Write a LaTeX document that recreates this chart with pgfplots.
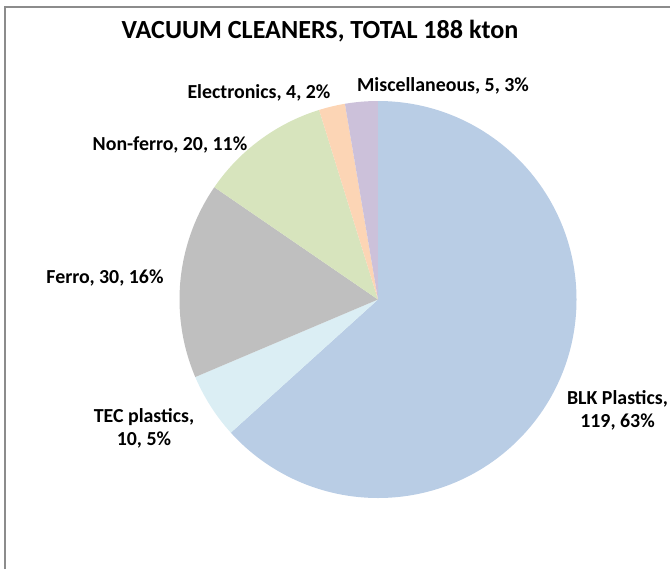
\documentclass[border=0pt]{standalone}
\usepackage{pgfplots}
\pgfplotsset{compat=1.18}
\usepackage{fontspec}
\setmainfont{Carlito}
\definecolor{cBLK}{HTML}{B9CDE5}
\definecolor{cTEC}{HTML}{DBEEF4}
\definecolor{cFer}{HTML}{BFBFBF}
\definecolor{cNon}{HTML}{D7E4BD}
\definecolor{cEle}{HTML}{FCD5B5}
\definecolor{cMis}{HTML}{CCC1DA}
\definecolor{frame}{HTML}{8C8C8C}
% data: kton per fraction (total 188)
\def\vBLK{119}\def\vTEC{10}\def\vFer{30}\def\vNon{20}\def\vEle{4}\def\vMis{5}
\begin{document}
\begin{tikzpicture}
\useasboundingbox (0,0) rectangle (502.5pt,426.75pt);
\pgfmathsetmacro\tot{\vBLK+\vTEC+\vFer+\vNon+\vEle+\vMis}
\pgfmathsetmacro\aA{90}
\pgfmathsetmacro\aB{\aA-\vBLK/\tot*360}
\pgfmathsetmacro\aC{\aB-\vTEC/\tot*360}
\pgfmathsetmacro\aD{\aC-\vFer/\tot*360}
\pgfmathsetmacro\aE{\aD-\vNon/\tot*360}
\pgfmathsetmacro\aF{\aE-\vEle/\tot*360}
\pgfmathsetmacro\aG{\aF-\vMis/\tot*360}
\def\cx{378}\def\cy{269.5}\def\R{198.5}
\begin{axis}[
  scale only axis, width=502.5pt, height=426.75pt,
  xmin=0, xmax=670, ymin=0, ymax=569,
  hide axis, clip=false,
]
\fill[cBLK] (\cx,\cy) -- ({\cx+\R*cos(\aA)},{\cy+\R*sin(\aA)}) arc[start angle=\aA, end angle=\aB, radius=\R] -- cycle;
\fill[cTEC] (\cx,\cy) -- ({\cx+\R*cos(\aB)},{\cy+\R*sin(\aB)}) arc[start angle=\aB, end angle=\aC, radius=\R] -- cycle;
\fill[cFer] (\cx,\cy) -- ({\cx+\R*cos(\aC)},{\cy+\R*sin(\aC)}) arc[start angle=\aC, end angle=\aD, radius=\R] -- cycle;
\fill[cNon] (\cx,\cy) -- ({\cx+\R*cos(\aD)},{\cy+\R*sin(\aD)}) arc[start angle=\aD, end angle=\aE, radius=\R] -- cycle;
\fill[cEle] (\cx,\cy) -- ({\cx+\R*cos(\aE)},{\cy+\R*sin(\aE)}) arc[start angle=\aE, end angle=\aF, radius=\R] -- cycle;
\fill[cMis] (\cx,\cy) -- ({\cx+\R*cos(\aF)},{\cy+\R*sin(\aF)}) arc[start angle=\aF, end angle=\aG, radius=\R] -- cycle;
\draw[frame, line width=1.2pt] (5,0) -- (5,562) -- (670,562);
\node[font=\fontsize{19.6}{24}\selectfont\bfseries] at (320,538) {VACUUM CLEANERS, TOTAL 188 kton};
\tikzset{lbl/.style={font=\fontsize{14.9}{17.3}\selectfont\bfseries, align=center, inner sep=0pt}}
\node[lbl] at (259,476) {Electronics, 4, 2\%};
\node[lbl] at (443,483) {Miscellaneous, 5, 3\%};
\node[lbl] at (170,424) {Non-ferro, 20, 11\%};
\node[lbl] at (105,291) {Ferro, 30, 16\%};
\node[lbl] at (144,140.5) {TEC plastics,\\10, 5\%};
\node[lbl] at (617.5,159) {BLK Plastics,\\119, 63\%};
\end{axis}
\end{tikzpicture}
\end{document}
